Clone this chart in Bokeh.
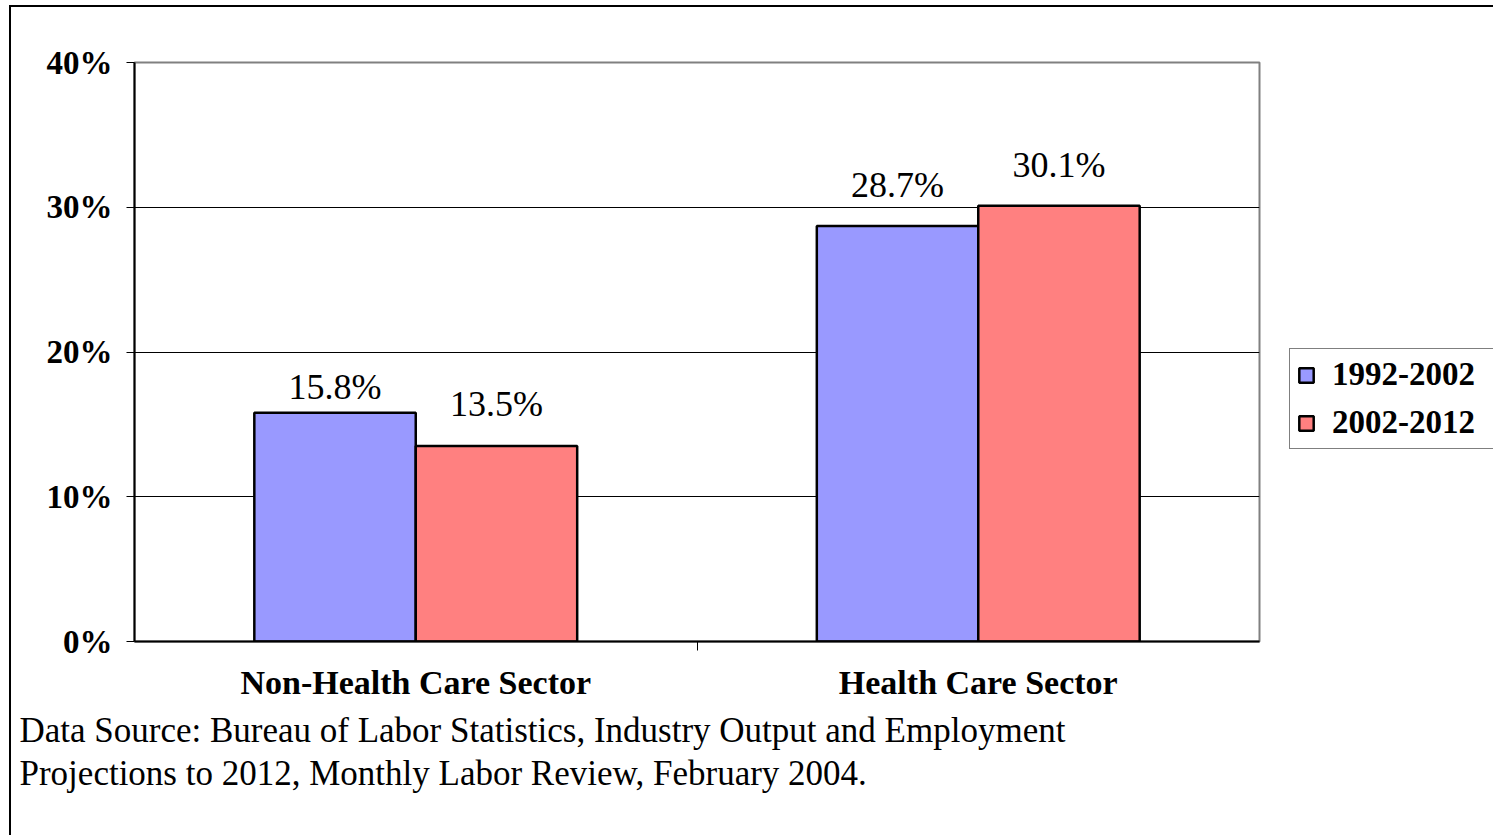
from bokeh.plotting import figure
from bokeh.models import (ColumnDataSource, FactorRange, Range1d, LinearAxis, CategoricalAxis, Title,
                          FixedTicker, PrintfTickFormatter, Legend, LegendItem)
from bokeh.transform import dodge
from bokeh.core.properties import value
from bokeh.embed import file_html
from bokeh.resources import INLINE

# ---- data ----
categories = ["Non-Health Care Sector", "Health Care Sector"]
series = ["1992-2002", "2002-2012"]
growth_1992_2002 = [15.8, 28.7]
growth_2002_2012 = [13.5, 30.1]
y_ticks = [0, 10, 20, 30, 40]
source_lines = [
    "Data Source:  Bureau of Labor Statistics, Industry Output and Employment",
    "Projections to 2012, Monthly Labor Review, February 2004.",
]

# label gaps (px) above bar tops, as placed in the original
gap_1992_2002 = [26, 41]
gap_2002_2012 = [42, 41]

SERIF = "Liberation Serif"
BLUE = "#9999FF"
RED = "#FF8080"

src = ColumnDataSource(dict(
    cat=categories,
    a=growth_1992_2002,
    b=growth_2002_2012,
    a_txt=[f"{v:.1f}%" for v in growth_1992_2002],
    b_txt=[f"{v:.1f}%" for v in growth_2002_2012],
    a_off=[-g for g in gap_1992_2002],
    b_off=[-g for g in gap_2002_2012],
))

p = figure(frame_width=1125, frame_height=579,
           x_range=FactorRange(*categories, range_padding=0, factor_padding=0),
           y_range=Range1d(0, 40), output_backend="svg", toolbar_location=None,
           x_axis_location=None, y_axis_location=None,
           min_border_left=134, min_border_right=234, min_border_top=62, min_border_bottom=194)
# helper categorical range whose factor centres fall on the category boundaries
edge_factors = [f"e{i}" for i in range(len(categories) + 1)]
p.extra_x_ranges = {"edges": FactorRange(*edge_factors, factor_padding=0,
                                         range_padding=-0.5, range_padding_units="absolute")}
p.background_fill_color = "white"
p.border_fill_alpha = 0
p.styles = {
    "background": ("linear-gradient(#000,#000) 9px 5px / 2px 100% no-repeat, "
                   "linear-gradient(#000,#000) 9px 5px / 100% 2px no-repeat, #fff"),
}
p.outline_line_color = "#808080"
p.outline_line_width = 2

# y axis
yax = LinearAxis(ticker=FixedTicker(ticks=y_ticks), formatter=PrintfTickFormatter(format="%d%%"))
yax.axis_line_color = "black"
yax.axis_line_width = 2
yax.major_tick_line_color = "black"
yax.major_tick_line_width = 1
yax.major_tick_out = 8
yax.major_tick_in = 0
yax.minor_tick_line_color = None
yax.major_label_text_font = SERIF
yax.major_label_text_font_style = "bold"
yax.major_label_text_font_size = "33px"
yax.major_label_text_color = "black"
yax.major_label_standoff = 14
p.add_layout(yax, "left")

# x tick axis (category boundaries)
tax = CategoricalAxis(x_range_name="edges")
tax.axis_line_color = "black"
tax.axis_line_width = 2
tax.major_tick_line_color = "black"
tax.major_tick_out = 9
tax.major_tick_in = 0
tax.major_label_text_alpha = 0
tax.major_label_text_font_size = "1px"
tax.major_label_standoff = 0
p.add_layout(tax, "below")

# category axis
cax = CategoricalAxis()
cax.axis_line_color = None
cax.major_tick_line_color = None
cax.major_label_text_font = SERIF
cax.major_label_text_font_style = "bold"
cax.major_label_text_font_size = "34px"
cax.major_label_text_color = "black"
cax.major_label_standoff = 7
p.add_layout(cax, "below")

# data source note
for i, line in enumerate(source_lines):
    t = Title(text=line, align="left", offset=-115, standoff=11 if i == 0 else -8,
              text_font=SERIF, text_font_size="35px", text_font_style="normal", text_color="black")
    p.add_layout(t, "below")

# grid
p.ygrid.ticker = FixedTicker(ticks=y_ticks[1:])
p.ygrid.grid_line_color = "black"
p.ygrid.grid_line_width = 1
p.xgrid.grid_line_color = None

OFF = 0.1435
BW = 0.287
r1 = p.vbar(x=dodge("cat", -OFF, range=p.x_range), top="a", width=BW, source=src,
            fill_color=BLUE, line_color="black", line_width=2.5)
r2 = p.vbar(x=dodge("cat", OFF, range=p.x_range), top="b", width=BW, source=src,
            fill_color=RED, line_color="black", line_width=2.5)

p.text(x=dodge("cat", -OFF, range=p.x_range), y="a", text="a_txt", y_offset="a_off", source=src,
       text_align="center", text_baseline="alphabetic", text_font=value(SERIF),
       text_font_size="36px", text_color="black")
p.text(x=dodge("cat", OFF, range=p.x_range), y="b", text="b_txt", y_offset="b_off", source=src,
       text_align="center", text_baseline="alphabetic", text_font=value(SERIF),
       text_font_size="36px", text_color="black")

legend = Legend(items=[LegendItem(label=series[0], renderers=[r1]),
                       LegendItem(label=series[1], renderers=[r2])],
                location=(30, 192))
legend.label_text_font = SERIF
legend.label_text_font_style = "bold"
legend.label_text_font_size = "33px"
legend.label_text_color = "black"
legend.glyph_width = 18
legend.glyph_height = 18
legend.label_height = 36
legend.label_width = 175
legend.label_standoff = 17
legend.padding = 7
legend.spacing = 11
legend.margin = 0
legend.border_line_color = "black"
legend.border_line_width = 1
legend.background_fill_color = "white"
legend.background_fill_alpha = 1
p.add_layout(legend, "right")

open("out.html", "w").write(file_html(p, INLINE))
